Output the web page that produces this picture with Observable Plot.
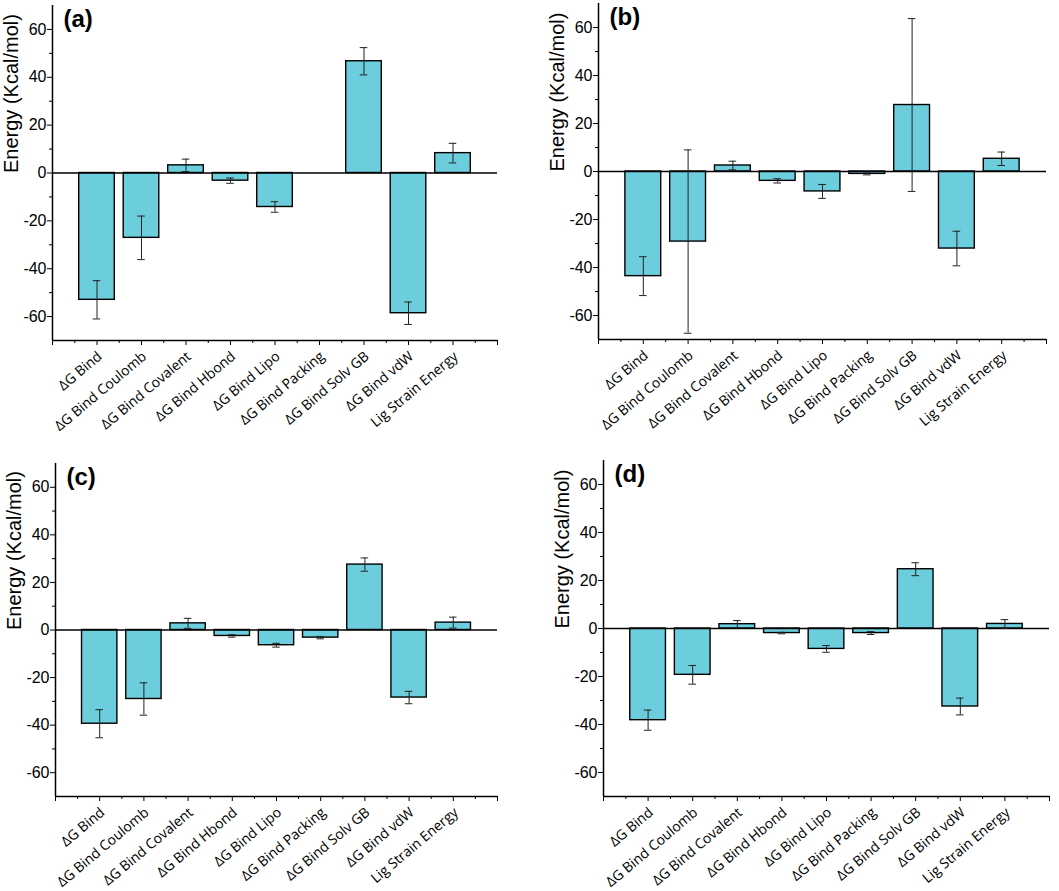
<!DOCTYPE html>
<html>
<head>
<meta charset="utf-8">
<script src="https://cdn.jsdelivr.net/npm/d3@7"></script>
<script src="https://cdn.jsdelivr.net/npm/@observablehq/plot@0.6"></script>
<style>
  html, body { margin: 0; padding: 0; background: #fff; }
  #wrap { position: relative; width: 1059px; height: 891px; overflow: hidden; }
  .panel { position: absolute; overflow: visible; }
</style>
</head>
<body>
<div id="wrap"></div>
<script>
const categories = ["ΔG Bind", "ΔG Bind Coulomb", "ΔG Bind Covalent", "ΔG Bind Hbond", "ΔG Bind Lipo", "ΔG Bind Packing", "ΔG Bind Solv GB", "ΔG Bind vdW", "Lig Strain Energy"];
const panelLabels = ["(a)", "(b)", "(c)", "(d)"];
const yTicks = [-60, -40, -20, 0, 20, 40, 60];
const yMinorTicks = [-50, -30, -10, 10, 30, 50];

const valuesA = [-53.0, -27.1, 3.2, -3.2, -14.2, null, 46.7, -58.6, 8.3];
const errorsA = [8.0, 9.1, 2.6, 1.1, 2.2, null, 5.7, 4.7, 4.1];
const valuesB = [-43.6, -29.2, 2.5, -3.9, -8.3, -1.0, 27.7, -32.1, 5.3];
const errorsB = [8.1, 38.2, 1.8, 0.9, 2.9, 0.4, 36.0, 7.2, 2.8];
const valuesC = [-39.4, -29.0, 2.8, -2.5, -6.4, -3.2, 27.5, -28.4, 3.1];
const errorsC = [5.9, 6.8, 2.1, 0.5, 0.8, 0.5, 2.8, 2.6, 2.3];
const valuesD = [-38.2, -19.3, 1.8, -1.9, -8.5, -1.9, 24.7, -32.5, 1.9];
const errorsD = [4.2, 3.9, 1.5, 0.3, 1.4, 0.6, 2.7, 3.5, 1.8];

const seriesValues = [valuesA, valuesB, valuesC, valuesD];
const seriesErrors = [errorsA, errorsB, errorsC, errorsD];

const layouts = [
  {left: 0,   top: 0,   width: 529, height: 450, mL: 52, mR: 32, mT: 5, mB: 110},
  {left: 530, top: 0,   width: 529, height: 450, mL: 68, mR: 13, mT: 3, mB: 111},
  {left: 0,   top: 455, width: 529, height: 436, mL: 55, mR: 32, mT: 8, mB: 95},
  {left: 530, top: 455, width: 529, height: 436, mL: 73, mR: 10, mT: 5, mB: 95}
];

const barColor = "#6ccddd";
const wrap = document.getElementById("wrap");
const tickLabels = categories.map((c, i) => ({pos: i + 1, label: c}));

layouts.forEach((L, p) => {
  const data = categories.map((c, i) => ({
    pos: i + 1, cat: c, v: seriesValues[p][i], e: seriesErrors[p][i]
  })).filter(d => d.v != null);
  const caps = data.flatMap(d => [{pos: d.pos, y: d.v + d.e}, {pos: d.pos, y: d.v - d.e}]);

  const chart = Plot.plot({
    width: L.width,
    height: L.height,
    marginLeft: L.mL,
    marginRight: L.mR,
    marginTop: L.mT,
    marginBottom: L.mB,
    style: {fontFamily: "'Liberation Sans', Arial, sans-serif", background: "white", color: "black", overflow: "visible"},
    x: {type: "linear", domain: [0, 10]},
    y: {domain: [-70, 70]},
    marks: [
      Plot.rectY(data, {
        x1: d => d.pos - 0.4, x2: d => d.pos + 0.4,
        y1: 0, y2: d => d.v,
        fill: barColor, stroke: "black", strokeWidth: 1.4
      }),
      Plot.ruleY([0], {stroke: "black", strokeWidth: 1.4}),
      Plot.ruleX(data, {x: "pos", y1: d => d.v - d.e, y2: d => d.v + d.e, stroke: "#222", strokeWidth: 1}),
      Plot.ruleY(caps, {y: "y", x1: d => d.pos - 0.085, x2: d => d.pos + 0.085, stroke: "#222", strokeWidth: 1}),
      Plot.ruleX([0], {stroke: "black", strokeWidth: 1.5}),
      Plot.ruleY([-70], {stroke: "black", strokeWidth: 1.5}),
      Plot.axisY({ticks: yTicks, tickSize: 5, tickPadding: 1, fontSize: 16, label: null, tickFormat: d => String(d)}),
      Plot.axisY({ticks: yMinorTicks, tickSize: 3, tickFormat: () => "", label: null}),
      Plot.axisX({ticks: d3.range(0, 11), tickSize: 5, tickFormat: () => "", label: null}),
      Plot.axisX({ticks: d3.range(0.5, 10, 1), tickSize: 3, tickFormat: () => "", label: null}),
      Plot.text(tickLabels, {
        x: "pos", y: () => -70, text: "label", dx: 3, dy: 14, rotate: -40,
        textAnchor: "end", lineAnchor: "middle", fontSize: 14,
        fontFamily: "'Open Sans', sans-serif", fill: "black"
      }),
      Plot.text(["Energy (Kcal/mol)"], {
        frameAnchor: "left", dx: -41, rotate: -90, fontSize: 20, fill: "black"
      }),
      Plot.text([panelLabels[p]], {
        frameAnchor: "top-left", dx: 11, dy: 4, fontSize: 24, fontWeight: "bold",
        textAnchor: "start", lineAnchor: "top", fill: "black"
      })
    ]
  });
  chart.classList.add("panel");
  chart.style.left = L.left + "px";
  chart.style.top = L.top + "px";
  wrap.appendChild(chart);
});
</script>
</body>
</html>
